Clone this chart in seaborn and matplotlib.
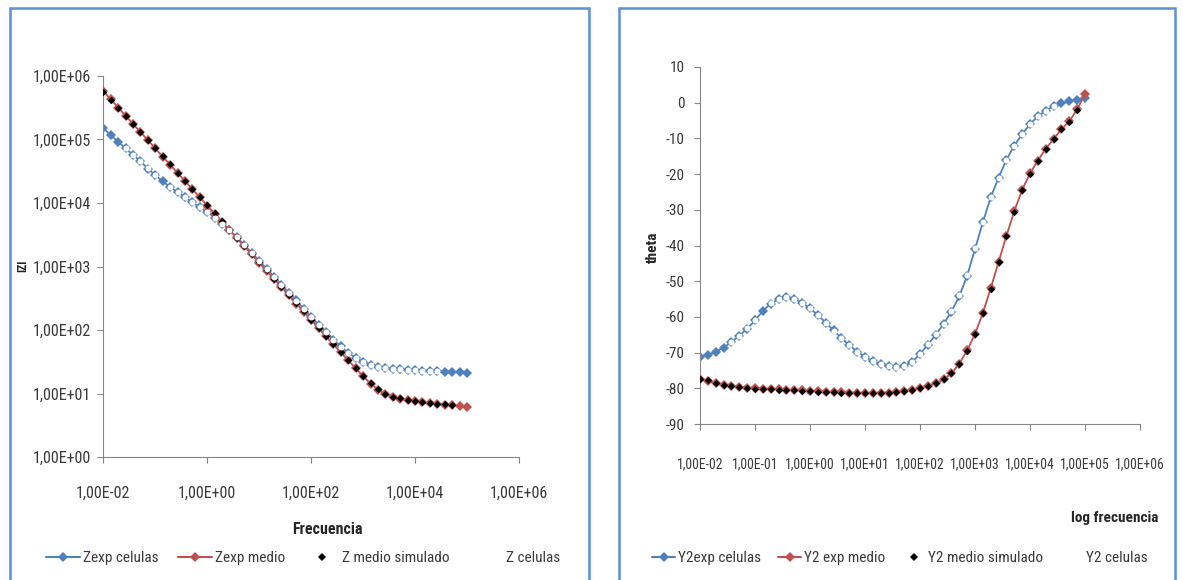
import numpy as np
import pandas as pd
import matplotlib
matplotlib.use("Agg")
import matplotlib.pyplot as plt
import seaborn as sns
from matplotlib import font_manager as fm
from matplotlib.ticker import FixedLocator, FuncFormatter, NullLocator
from matplotlib.lines import Line2D
from matplotlib.patches import Rectangle

nan = np.nan

# ---------------------------------------------------------------- data
frecuencia = [
    0.01, 0.01389, 0.01931, 0.02683, 0.03728, 0.05179, 0.07197,
    0.1, 0.1389, 0.1931, 0.2683, 0.3728, 0.5179, 0.7197,
    1.0, 1.389, 1.931, 2.683, 3.728, 5.179, 7.197,
    10.0, 13.89, 19.31, 26.83, 37.28, 51.79, 71.97,
    100.0, 138.9, 193.1, 268.3, 372.8, 517.9, 719.7,
    1000.0, 1389.0, 1931.0, 2683.0, 3728.0, 5179.0, 7197.0,
    10000.0, 13890.0, 19310.0, 26830.0, 37280.0, 51790.0, 71970.0,
    100000.0,
]

# |Z| (ohm)
z_exp_celulas = [
    1.51e5, 1.17e5, 9.23e4, 7.24e4, 5.75e4, 4.57e4, 3.47e4,
    2.75e4, 2.19e4, 1.78e4, 1.48e4, 1.23e4, 1.02e4, 8610,
    7240, 5890, 4730, 3720, 2880, 2190, 1640,
    1230, 923, 692, 513, 389, 292, 216,
    162, 122, 92.3, 70.8, 55.0, 43.7, 36.7,
    31.6, 28.5, 26.6, 25.4, 24.5, 24.0, 23.4,
    23.2, 22.9, 22.6, 22.4, 22.1, 21.9, 21.6,
    21.4,
]
z_exp_medio = [
    5.75e5, 4.28e5, 3.18e5, 2.37e5, 1.76e5, 1.31e5, 9.75e4,
    7.24e4, 5.38e4, 4.01e4, 2.98e4, 2.22e4, 1.65e4, 1.23e4,
    9120, 6780, 5050, 3750, 2790, 2070, 1550,
    1150, 853, 635, 472, 352, 261, 195,
    145, 107, 80.0, 59.4, 44.3, 33.1, 25.1,
    18.6, 14.3, 11.5, 9.77, 8.91, 8.32, 7.85,
    7.50, 7.28, 7.08, 6.89, 6.70, 6.52, 6.34,
    6.17,
]
z_medio_simulado = [
    5.70e5, 4.25e5, 3.17e5, 2.36e5, 1.76e5, 1.31e5, 9.77e4,
    7.28e4, 5.42e4, 4.04e4, 3.01e4, 2.24e4, 1.67e4, 1.24e4,
    9250, 6890, 5130, 3820, 2840, 2110, 1570,
    1170, 868, 645, 479, 356, 264, 196,
    146, 108, 80.5, 60.0, 44.8, 33.5, 25.3,
    18.8, 14.4, 11.6, 9.85, 8.95, 8.35, 7.90,
    7.54, 7.30, 7.10, 6.90, 6.72, 6.54, nan,
    nan,
]
z_celulas = [
    nan, nan, nan, 7.30e4, 5.78e4, 4.55e4, 3.50e4,
    2.78e4, nan, 1.80e4, 1.49e4, 1.24e4, 1.03e4, 8650,
    7250, 5900, 4720, 3700, 2870, 2180, 1630,
    1225, 920, 690, 512, 388, 291, 215,
    161, 121, 92.0, 70.5, 54.6, 43.4, 36.5,
    31.5, 28.4, 26.5, 25.3, 24.4, 23.9, 23.4,
    23.1, 22.8, 22.5, 22.3, nan, nan, nan,
    nan,
]

# phase angle (degrees)
y2_exp_celulas = [
    -71.2, -70.6, -69.8, -68.6, -67.0, -65.3, -63.3,
    -61.0, -58.3, -56.3, -55.0, -54.5, -54.9, -56.0,
    -57.6, -59.5, -61.6, -63.8, -65.9, -67.9, -69.7,
    -71.2, -72.4, -73.3, -73.8, -74.0, -73.8, -72.6,
    -70.4, -67.8, -65.0, -62.0, -58.5, -54.2, -48.5,
    -41.0, -33.5, -26.5, -21.0, -16.0, -12.0, -8.8,
    -6.0, -3.8, -2.2, -1.0, -0.2, 0.4, 0.8,
    1.2,
]
y2_exp_medio = [
    -77.5, -77.9, -78.6, -79.1, -79.4, -79.6, -79.8,
    -80.0, -80.1, -80.2, -80.3, -80.4, -80.5, -80.6,
    -80.7, -80.8, -80.9, -81.0, -81.1, -81.2, -81.3,
    -81.3, -81.3, -81.3, -81.2, -81.0, -80.8, -80.4,
    -80.0, -79.4, -78.6, -77.5, -75.8, -73.1, -69.4,
    -64.8, -58.9, -52.0, -44.6, -37.3, -30.4, -24.4,
    -19.8, -16.2, -12.9, -10.2, -7.4, -5.2, -1.9,
    2.5,
]
y2_medio_simulado = [
    -77.3, -77.8, -78.5, -79.0, -79.4, -79.7, -79.9,
    -80.1, -80.2, -80.3, -80.4, -80.5, -80.6, -80.7,
    -80.8, -80.9, -81.0, -81.1, -81.2, -81.3, -81.3,
    -81.3, -81.3, -81.3, -81.2, -81.0, -80.8, -80.4,
    -80.0, -79.4, -78.6, -77.5, -75.8, -73.2, -69.5,
    -64.9, -59.0, -52.1, -44.7, -37.4, -30.5, -24.5,
    -19.9, -16.3, -13.0, -10.3, -7.5, -5.3, -2.0,
    nan,
]
y2_celulas = [
    nan, nan, nan, nan, -67.1, -65.3, -63.2,
    -60.9, nan, -56.2, -55.0, -54.5, -54.9, -56.0,
    -57.6, -59.5, -61.7, -63.9, -66.0, -68.0, -69.8,
    -71.2, -72.4, -73.3, -73.8, -74.0, -73.7, -72.5,
    -70.3, -67.7, -64.9, -61.9, -58.3, -54.0, -48.3,
    -40.8, -33.4, -26.5, -21.0, -16.0, -12.0, -8.8,
    -6.0, -3.8, -2.2, -1.0, nan, nan, nan,
    nan,
]

ticks_x_z = [1e-2, 1e0, 1e2, 1e4, 1e6]
ticks_y_z = [1e0, 1e1, 1e2, 1e3, 1e4, 1e5, 1e6]
ticks_x_theta = [1e-2, 1e-1, 1e0, 1e1, 1e2, 1e3, 1e4, 1e5, 1e6]
ticks_y_theta = [-90, -80, -70, -60, -50, -40, -30, -20, -10, 0, 10]

labels_z = ["Zexp celulas", "Zexp medio", "Z medio simulado", "Z celulas"]
labels_theta = ["Y2exp celulas", "Y2 exp medio", "Y2 medio simulado", "Y2 celulas"]

# ---------------------------------------------------------------- style
sns.set_theme(style="white")

# prefer a narrow face when one is installed
_faces = fm.fontManager.ttflist
_names = {f.name for f in _faces}
STRETCH = "normal"
ESCALA = 1.0
if "Liberation Sans Narrow" in _names:
    FAMILIA = ["Liberation Sans Narrow", "DejaVu Sans"]
elif "Roboto Condensed" in _names:
    FAMILIA = ["Roboto Condensed", "DejaVu Sans"]
elif any(f.name == "DejaVu Sans" and f.stretch in ("condensed", 300, "semi-condensed")
         for f in _faces):
    FAMILIA = ["DejaVu Sans", "Noto Sans"]
    STRETCH = "condensed"
    ESCALA = 0.92
else:
    FAMILIA = ["Liberation Sans", "DejaVu Sans"]
    ESCALA = 0.82

plt.rcParams["font.family"] = FAMILIA
plt.rcParams["font.stretch"] = STRETCH
plt.rcParams["axes.unicode_minus"] = False


def fs(v):
    return v * ESCALA


AZUL = "#4F81BD"
ROJO = "#C0504D"
GRIS = "#868686"
TEXTO = "#3A3A3A"
BORDE = "#5B8FD6"

W, H = 1183, 580
fig = plt.figure(figsize=(W / 100, H / 100), dpi=100)
fig.patch.set_facecolor("white")

# chart-area frames
fig.add_artist(Rectangle((10 / W, -0.03), 579 / W, 1.03 - 8 / H,
                         transform=fig.transFigure, fill=False,
                         edgecolor=BORDE, linewidth=1.8))
fig.add_artist(Rectangle((619 / W, -0.03), 556 / W, 1.03 - 8 / H,
                         transform=fig.transFigure, fill=False,
                         edgecolor=BORDE, linewidth=1.8))

ax_z = fig.add_axes([103.3 / W, 1 - 457 / H, 415.7 / W, 381 / H])
ax_t = fig.add_axes([700 / W, 1 - 424 / H, 440 / W, 357 / H])

MS_EXP = 5.2
MS_SIM = 3.8
MS_CEL = 4.3


def dibujar(ax, y_exp_cel, y_exp_med, y_sim, y_cel):
    df = pd.DataFrame({"f": frecuencia, "exp_cel": y_exp_cel,
                       "exp_med": y_exp_med, "sim": y_sim, "cel": y_cel})
    sns.lineplot(data=df, x="f", y="exp_cel", ax=ax, color=AZUL, marker="D",
                 markersize=MS_EXP, markeredgewidth=0, linewidth=1.3,
                 estimator=None, sort=False, legend=False, zorder=2)
    sns.lineplot(data=df, x="f", y="exp_med", ax=ax, color=ROJO, marker="D",
                 markersize=MS_EXP, markeredgewidth=0, linewidth=1.3,
                 estimator=None, sort=False, legend=False, zorder=3)
    sim = df.dropna(subset=["sim"])
    sns.scatterplot(data=sim, x="f", y="sim", ax=ax, color="black", marker="D",
                    s=MS_SIM ** 2, linewidth=0, legend=False, zorder=4)
    cel = df.dropna(subset=["cel"])
    sns.scatterplot(data=cel, x="f", y="cel", ax=ax, color="white", marker="o",
                    s=MS_CEL ** 2, linewidth=0, legend=False, zorder=5)


def excel_e(v, pos=None):
    return f"{v:.2E}".replace(".", ",")


def estilo(ax):
    for s in ("top", "right"):
        ax.spines[s].set_visible(False)
    for s in ("left", "bottom"):
        ax.spines[s].set_color(GRIS)
        ax.spines[s].set_linewidth(0.8)
    ax.set_facecolor("white")
    ax.grid(False)
    ax.set_xlabel("")
    ax.set_ylabel("")


# |Z| panel
ax_z.set_xscale("log")
ax_z.set_yscale("log")
dibujar(ax_z, z_exp_celulas, z_exp_medio, z_medio_simulado, z_celulas)
ax_z.set_xlim(1e-2, 1e6)
ax_z.set_ylim(1e0, 1e6)
ax_z.xaxis.set_major_locator(FixedLocator(ticks_x_z))
ax_z.yaxis.set_major_locator(FixedLocator(ticks_y_z))
ax_z.xaxis.set_minor_locator(NullLocator())
ax_z.yaxis.set_minor_locator(NullLocator())
ax_z.xaxis.set_major_formatter(FuncFormatter(excel_e))
ax_z.yaxis.set_major_formatter(FuncFormatter(excel_e))
estilo(ax_z)
ax_z.tick_params(axis="x", direction="out", length=4, width=0.8, color=GRIS,
                 pad=17, labelsize=fs(11.5), labelcolor=TEXTO, bottom=True)
ax_z.tick_params(axis="y", direction="out", length=4, width=0.8, color=GRIS,
                 pad=5, labelsize=fs(11.5), labelcolor=TEXTO, left=True)

# phase panel
ax_t.set_xscale("log")
dibujar(ax_t, y2_exp_celulas, y2_exp_medio, y2_medio_simulado, y2_celulas)
ax_t.set_xlim(1e-2, 1e6)
ax_t.set_ylim(-90, 10)
ax_t.xaxis.set_major_locator(FixedLocator(ticks_x_theta))
ax_t.yaxis.set_major_locator(FixedLocator(ticks_y_theta))
ax_t.xaxis.set_minor_locator(NullLocator())
ax_t.xaxis.set_major_formatter(FuncFormatter(excel_e))
ax_t.yaxis.set_major_formatter(FuncFormatter(lambda v, p: f"{v:.0f}"))
estilo(ax_t)
ax_t.tick_params(axis="x", direction="out", length=4, width=0.8, color=GRIS,
                 pad=20, labelsize=fs(9.8), labelcolor=TEXTO, bottom=True)
ax_t.tick_params(axis="y", direction="out", length=4, width=0.8, color=GRIS,
                 pad=7, labelsize=fs(11), labelcolor=TEXTO, left=True)

# axis titles
fig.text(327 / W, 1 - 530 / H, "Frecuencia", ha="center", va="center",
         fontsize=fs(11.5), fontweight="bold", color="#262626")
fig.text(23 / W, 1 - 266 / H, "IZI", ha="center", va="center", rotation=90,
         fontsize=fs(8.5), fontweight="bold", color="#262626")
fig.text(1115 / W, 1 - 518 / H, "log frecuencia", ha="center", va="center",
         fontsize=fs(11), fontweight="bold", color="#262626")
fig.text(653 / W, 1 - 247 / H, "theta", ha="center", va="center", rotation=90,
         fontsize=fs(11), fontweight="bold", color="#262626")


def manejadores():
    return [
        Line2D([], [], color=AZUL, marker="D", markersize=MS_EXP,
               markeredgewidth=0, linewidth=1.5),
        Line2D([], [], color=ROJO, marker="D", markersize=MS_EXP,
               markeredgewidth=0, linewidth=1.5),
        Line2D([], [], color="black", marker="D", markersize=MS_SIM,
               markeredgewidth=0, linestyle="none"),
        Line2D([], [], color="white", marker="o", markersize=MS_CEL,
               markeredgewidth=0, linestyle="none"),
    ]


leyendas = (
    (labels_z, 303 / W, 2.2, 1.3),
    (labels_theta, 900 / W, 1.5, 1.1),
)
for etiquetas, cx, largo, sep in leyendas:
    fig.legend(manejadores(), etiquetas, loc="center",
               bbox_to_anchor=(cx, 1 - 558 / H), ncol=4, frameon=False,
               fontsize=fs(11), handlelength=largo, handletextpad=0.2,
               columnspacing=sep, numpoints=1, labelcolor=TEXTO)

fig.savefig("out.png", dpi=100, facecolor="white")
